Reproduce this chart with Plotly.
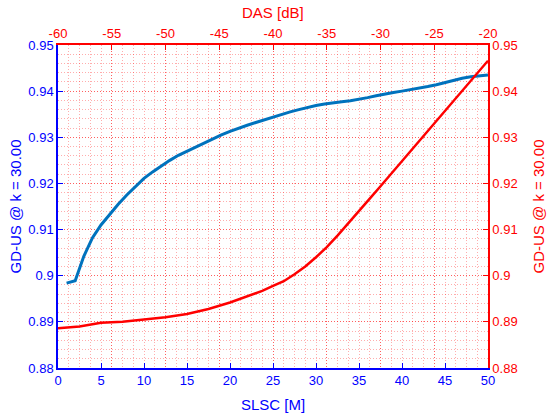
import plotly.graph_objects as go

# SLSC [M] (bottom axis) -> GD-US (left axis)
slsc_m = list(range(1, 51))
slsc_gdus = [0.8984, 0.8989, 0.9042, 0.9082, 0.9110, 0.9133, 0.9155, 0.9175, 0.9194, 0.9211,
             0.9225, 0.9238, 0.9250, 0.9261, 0.9270, 0.9279, 0.9288, 0.9296, 0.9305, 0.9313,
             0.9320, 0.9326, 0.9332, 0.9338, 0.9344, 0.9350, 0.9355, 0.9360, 0.9365, 0.9369,
             0.9372, 0.9375, 0.9377, 0.9379, 0.9382, 0.9386, 0.9390, 0.9394, 0.9397, 0.9400,
             0.9403, 0.9406, 0.9410, 0.9414, 0.9419, 0.9424, 0.9428, 0.9431, 0.9433, 0.9435]

# DAS [dB] (top axis) -> GD-US (right axis)
das_db = [-60, -58, -56, -54, -52, -50, -48, -46, -44, -42, -41, -40, -39, -38, -37, -36,
          -35, -34, -33, -32, -31, -30, -29, -28, -27, -26, -25, -24, -23, -22, -21, -20]
das_gdus = [0.8886, 0.8890, 0.8898, 0.8900, 0.8905, 0.8910, 0.8917, 0.8928, 0.8942, 0.8958,
            0.8967, 0.8978, 0.8988, 0.9003, 0.9020, 0.9040, 0.9062, 0.9087, 0.9113, 0.9140,
            0.9167, 0.9194, 0.9221, 0.9248, 0.9275, 0.9302, 0.9329, 0.9356, 0.9383, 0.9410,
            0.9438, 0.9466]

slsc_ticks = [0, 5, 10, 15, 20, 25, 30, 35, 40, 45, 50]
das_ticks = [-60, -55, -50, -45, -40, -35, -30, -25, -20]
das_ticklabels = [str(v) for v in das_ticks]
y_ticks = [0.88, 0.89, 0.90, 0.91, 0.92, 0.93, 0.94, 0.95]
y_ticklabels = ["0.88", "0.89", "0.9", "0.91", "0.92", "0.93", "0.94", "0.95"]

BLUE = "#0000FF"
LINE_BLUE = "rgb(0,114,189)"
RED = "#FF0000"
GRID = "rgba(255,0,0,0.45)"
GRID_MINOR = "rgba(255,0,0,0.32)"
DOTS = "1px,2px"
FONT = "Liberation Sans, Arial, sans-serif"

fig = go.Figure()
fig.add_trace(go.Scatter(x=slsc_m, y=slsc_gdus, mode="lines", xaxis="x", yaxis="y",
                         line=dict(color=LINE_BLUE, width=3), showlegend=False))
fig.add_trace(go.Scatter(x=das_db, y=das_gdus, mode="lines", xaxis="x2", yaxis="y2",
                         line=dict(color=RED, width=2.5), showlegend=False))

fig.update_layout(
    width=552, height=415,
    margin=dict(l=58, r=64, t=45, b=47),
    paper_bgcolor="white", plot_bgcolor="white",
    font=dict(family=FONT, size=13),
    xaxis=dict(range=[0, 50], tickmode="array", tickvals=slsc_ticks,
               ticks="inside", ticklen=5, tickcolor=BLUE, tickwidth=1,
               showline=True, linecolor=BLUE, linewidth=1.5,
               tickfont=dict(color=BLUE, size=13), showgrid=False, zeroline=False),
    xaxis2=dict(range=[-60, -20], overlaying="x", side="top", anchor="y",
                tickmode="array", tickvals=das_ticks, ticktext=das_ticklabels,
                ticks="inside", ticklen=5, tickcolor=RED, tickwidth=1,
                showline=True, linecolor=RED, linewidth=1.5,
                tickfont=dict(color=RED, size=13),
                showgrid=True, gridcolor=GRID, griddash=DOTS, gridwidth=1,
                minor=dict(dtick=1, showgrid=True, gridcolor=GRID_MINOR, griddash=DOTS, gridwidth=1),
                zeroline=False),
    xaxis3=dict(range=[0, 50], overlaying="x", side="top", anchor="y",
                tickmode="array", tickvals=slsc_ticks[1:-1],
                ticks="inside", ticklen=5, tickcolor=BLUE, tickwidth=1,
                showticklabels=False, showline=False, showgrid=False, zeroline=False),
    yaxis=dict(range=[0.88, 0.95], tickmode="array", tickvals=y_ticks, ticktext=y_ticklabels,
               ticks="inside", ticklen=5, tickcolor=BLUE, tickwidth=1,
               showline=True, linecolor=BLUE, linewidth=1.5,
               tickfont=dict(color=BLUE, size=13), showgrid=False, zeroline=False),
    yaxis2=dict(range=[0.88, 0.95], overlaying="y", side="right", anchor="x",
                tickmode="array", tickvals=y_ticks, ticktext=y_ticklabels,
                ticks="inside", ticklen=5, tickcolor=RED, tickwidth=1,
                showline=True, linecolor=RED, linewidth=1.5,
                tickfont=dict(color=RED, size=13),
                showgrid=True, gridcolor=GRID, griddash=DOTS, gridwidth=1,
                minor=dict(dtick=0.002, showgrid=True, gridcolor=GRID_MINOR, griddash=DOTS, gridwidth=1),
                zeroline=False),
    annotations=[
        dict(text="SLSC [M]", xref="paper", yref="paper", x=0.5, y=0, yshift=-36,
             showarrow=False, xanchor="center", yanchor="middle",
             font=dict(color=BLUE, size=15, family=FONT)),
        dict(text="DAS [dB]", xref="paper", yref="paper", x=0.5, y=1, yshift=33,
             showarrow=False, xanchor="center", yanchor="middle",
             font=dict(color=RED, size=15, family=FONT)),
        dict(text="GD-US @ k = 30.00", xref="paper", yref="paper", x=0, y=0.5, xshift=-43,
             showarrow=False, xanchor="center", yanchor="middle", textangle=-90,
             font=dict(color=BLUE, size=15, family=FONT)),
        dict(text="GD-US @ k = 30.00", xref="paper", yref="paper", x=1, y=0.5, xshift=50,
             showarrow=False, xanchor="center", yanchor="middle", textangle=-90,
             font=dict(color=RED, size=15, family=FONT)),
    ],
)

fig.write_html("out.html", config={"displayModeBar": False},
               post_script="document.body.style.margin='0';document.body.style.overflow='hidden';")
